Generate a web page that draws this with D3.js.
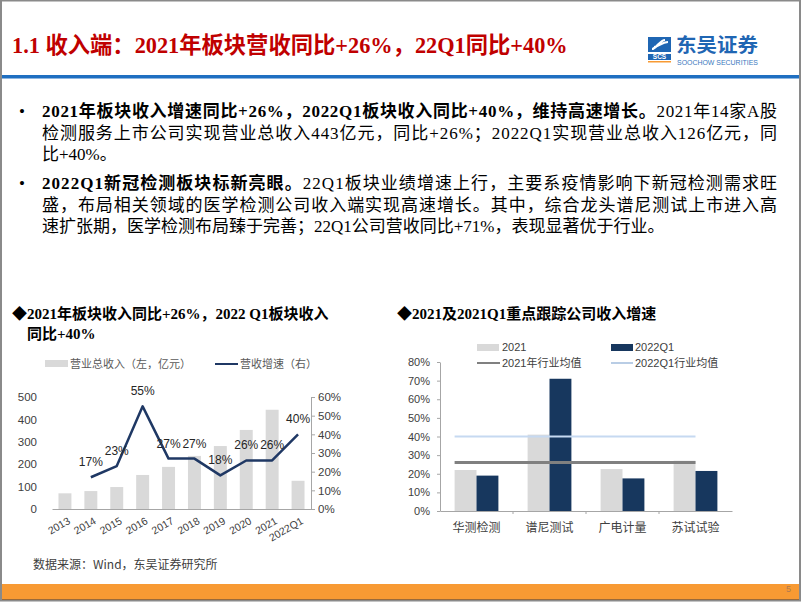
<!DOCTYPE html>
<html><head><meta charset="utf-8">
<script src="https://cdn.jsdelivr.net/npm/d3@7"></script>
<style>
html,body{margin:0;padding:0;background:#fff;}
svg{display:block;}
</style>
</head><body>
<svg id="c" width="802" height="602"></svg>
<script>
// ---------- data ----------
const years = ["2013","2014","2015","2016","2017","2018","2019","2020","2021","2022Q1"];
const revenue = [70, 80, 98, 152, 188, 237, 281, 353, 443, 126];
const growth = [null, 17, 23, 55, 27, 27, 18, 26, 26, 40];
const leftTicks = [0, 100, 200, 300, 400, 500];
const rightTicks = [0, 10, 20, 30, 40, 50, 60];

const companies = ["华测检测","谱尼测试","广电计量","苏试试验"];
const growth2021 = [22, 41, 22.5, 27];
const growth2022Q1 = [19, 71, 17.5, 21.5];
const avg2021 = 26;
const avg2022Q1 = 40;
const pctTicks = [0, 10, 20, 30, 40, 50, 60, 70, 80];

const serif = "'Liberation Serif','Times New Roman','Noto Sans CJK SC',serif";
const sans = "'Liberation Sans',Arial,'Noto Sans CJK SC',sans-serif";
const cjk = "'Noto Sans CJK SC',sans-serif";

const svg = d3.select("#c");

// ---------- slide frame ----------
svg.append("rect").attr("x",0).attr("y",0).attr("width",802).attr("height",602).attr("fill","#fff");
svg.append("rect").attr("x",1).attr("y",0.5).attr("width",799).attr("height",600).attr("fill","none").attr("stroke","#8a8a8a").attr("stroke-width",2);
svg.append("rect").attr("x",2).attr("y",584).attr("width",797).attr("height",15).attr("fill","#F89A33");
svg.append("line").attr("x1",2).attr("x2",799).attr("y1",599.5).attr("y2",599.5).attr("stroke","#9a6a3a").attr("stroke-width",1);
svg.append("text").attr("x",786).attr("y",592).attr("font-family",sans).attr("font-size",9).attr("fill","#b07a50").text("5");

// header
svg.append("text").attr("x",12).attr("y",53)
  .attr("font-family",serif).attr("font-weight","bold").attr("font-size",22.3).attr("fill","#C00000")
  .text("1.1 收入端：2021年板块营收同比+26%，22Q1同比+40%");
svg.append("rect").attr("x",2).attr("y",75).attr("width",797).attr("height",3.5).attr("fill","#1F6FC1");

// logo
const logo = svg.append("g");
logo.append("rect").attr("x",648).attr("y",37).attr("width",23).attr("height",15).attr("fill","#1F66B3");
logo.append("path").attr("d","M652,49 C656,49 660,40 665,40 M654,47 C658,47 662,42 668,42")
  .attr("stroke","#fff").attr("stroke-width",2.2).attr("fill","none");
logo.append("rect").attr("x",648).attr("y",54).attr("width",23).attr("height",6).attr("fill","#1F66B3");
logo.append("text").attr("x",659.5).attr("y",59.3).attr("text-anchor","middle").attr("font-family",sans)
  .attr("font-weight","bold").attr("font-size",6.5).attr("fill","#fff").text("SCS");
logo.append("rect").attr("x",648).attr("y",61).attr("width",23).attr("height",1.5).attr("fill","#F89A33");
logo.append("text").attr("x",676).attr("y",52).attr("font-family",cjk).attr("font-weight","bold")
  .attr("font-size",19).attr("fill","#1F66B3").attr("textLength",82).attr("lengthAdjust","spacingAndGlyphs").text("东吴证券");
logo.append("text").attr("x",677).attr("y",65).attr("font-family",sans)
  .attr("font-size",6.5).attr("fill","#3A78BE").attr("textLength",81).attr("lengthAdjust","spacingAndGlyphs").text("SOOCHOW SECURITIES");

// ---------- bullets ----------
const bulletLines = [
  {y:117, bullet:true, parts:[["b","2021年板块收入增速同比+26%，2022Q1板块收入同比+40%，维持高速增长。"],["n","2021年14家A股"]], full:true},
  {y:139, parts:[["n","检测服务上市公司实现营业总收入443亿元，同比+26%；2022Q1实现营业总收入126亿元，同"]], full:true},
  {y:160, parts:[["n","比+40%。"]]},
  {y:189, bullet:true, parts:[["b","2022Q1新冠检测板块标新亮眼。"],["n","22Q1板块业绩增速上行，主要系疫情影响下新冠检测需求旺"]], full:true},
  {y:211, parts:[["n","盛，布局相关领域的医学检测公司收入端实现高速增长。其中，综合龙头谱尼测试上市进入高"]], full:true},
  {y:232, parts:[["n","速扩张期，医学检测布局臻于完善；22Q1公司营收同比+71%，表现显著优于行业。"]]}
];
bulletLines.forEach(l => {
  if (l.bullet) svg.append("text").attr("x",19).attr("y",l.y).attr("font-family",serif).attr("font-size",17).attr("fill","#000").text("•");
  const t = svg.append("text").attr("x",42).attr("y",l.y).attr("font-family",serif).attr("font-size",17).attr("fill","#000");
  if (l.full) t.attr("textLength",735).attr("lengthAdjust","spacing");
  l.parts.forEach(p => t.append("tspan").attr("font-weight", p[0]==="b"?"bold":"normal").text(p[1]));
});

// ---------- left chart ----------
svg.append("text").attr("x",12).attr("y",319).attr("font-family",serif).attr("font-weight","bold").attr("font-size",15).attr("fill","#000")
  .text("◆2021年板块收入同比+26%，2022 Q1板块收入");
svg.append("text").attr("x",27).attr("y",339).attr("font-family",serif).attr("font-weight","bold").attr("font-size",15).attr("fill","#000")
  .text("同比+40%");

// legend
svg.append("rect").attr("x",45).attr("y",360).attr("width",23).attr("height",7).attr("fill","#D9D9D9");
svg.append("text").attr("x",70).attr("y",368).attr("font-family",cjk).attr("font-size",11).attr("fill","#595959").text("营业总收入（左，亿元）");
svg.append("line").attr("x1",215).attr("x2",238).attr("y1",364).attr("y2",364).attr("stroke","#1F3864").attr("stroke-width",2);
svg.append("text").attr("x",240).attr("y",368).attr("font-family",cjk).attr("font-size",11).attr("fill","#595959").text("营收增速（右）");

const xL = d3.scaleBand().domain(years).range([52, 311]).paddingInner(0.5).paddingOuter(0.25);
const yL = d3.scaleLinear().domain([0, 500]).range([509, 397]);
const yR = d3.scaleLinear().domain([0, 60]).range([509, 397]);

const gL = svg.append("g");
gL.selectAll("rect.bar").data(years).enter().append("rect")
  .attr("x", d => xL(d)).attr("width", xL.bandwidth())
  .attr("y", (d,i) => yL(revenue[i])).attr("height", (d,i) => yL(0) - yL(revenue[i]))
  .attr("fill", "#D9D9D9");

// axes
const axL = gL.append("g").attr("transform","translate(43,0)")
  .call(d3.axisLeft(yL).tickValues(leftTicks).tickSize(0).tickPadding(6));
axL.select(".domain").remove();
axL.selectAll("text").attr("font-family",sans).attr("font-size",11.5).attr("fill","#404040");

const axR = gL.append("g").attr("transform","translate(311,0)")
  .call(d3.axisRight(yR).tickValues(rightTicks).tickFormat(d => d + "%").tickSizeInner(4).tickSizeOuter(0).tickPadding(3));
axR.select(".domain").attr("stroke","#A6A6A6");
axR.selectAll("line").attr("stroke","#A6A6A6");
axR.selectAll("text").attr("font-family",sans).attr("font-size",11.5).attr("fill","#404040");

const axB = gL.append("g").attr("transform","translate(0,509)")
  .call(d3.axisBottom(xL).tickSize(0).tickPadding(0));
axB.select(".domain").attr("stroke","#A6A6A6");
axB.selectAll("text")
  .attr("font-family",sans).attr("font-size",10.5).attr("fill","#404040")
  .attr("text-anchor","end").attr("dy",0)
  .attr("transform", function(){ return "translate(6,14) rotate(-30)"; })
  .attr("y",0).attr("x",0);

// growth line
const lineData = years.map((d,i) => ({k:d, v:growth[i]})).filter(d => d.v !== null);
const cx = d => xL(d) + xL.bandwidth()/2;
gL.append("path").datum(lineData)
  .attr("d", d3.line().x(d => cx(d.k)).y(d => yR(d.v)))
  .attr("fill","none").attr("stroke","#1F3864").attr("stroke-width",2.5).attr("stroke-linejoin","round");
gL.selectAll("text.lbl").data(lineData).enter().append("text")
  .attr("x", d => cx(d.k)).attr("y", d => yR(d.v) - 11)
  .attr("text-anchor","middle").attr("font-family",sans).attr("font-size",12).attr("fill","#262626")
  .text(d => d.v + "%");

// ---------- right chart ----------
svg.append("text").attr("x",397).attr("y",319).attr("font-family",serif).attr("font-weight","bold").attr("font-size",15).attr("fill","#000")
  .text("◆2021及2021Q1重点跟踪公司收入增速");

// legend
svg.append("rect").attr("x",477).attr("y",344).attr("width",22).attr("height",7).attr("fill","#D9D9D9");
svg.append("text").attr("x",502).attr("y",351).attr("font-family",sans).attr("font-size",11).attr("fill","#404040").text("2021");
svg.append("rect").attr("x",611).attr("y",344).attr("width",22).attr("height",7).attr("fill","#17375E");
svg.append("text").attr("x",635).attr("y",351).attr("font-family",sans).attr("font-size",11).attr("fill","#404040").text("2022Q1");
svg.append("line").attr("x1",477).attr("x2",500).attr("y1",363).attr("y2",363).attr("stroke","#808080").attr("stroke-width",2);
svg.append("text").attr("x",502).attr("y",367).attr("font-family",sans).attr("font-size",11).attr("fill","#404040").text("2021年行业均值");
svg.append("line").attr("x1",611).attr("x2",633).attr("y1",363).attr("y2",363).attr("stroke","#B9CDE5").attr("stroke-width",2);
svg.append("text").attr("x",635).attr("y",367).attr("font-family",sans).attr("font-size",11).attr("fill","#404040").text("2022Q1行业均值");

const xC = d3.scaleBand().domain(companies).range([440, 732]).paddingInner(0.4).paddingOuter(0.2);
const xS = d3.scaleBand().domain(["2021","2022Q1"]).range([0, xC.bandwidth()]);
const yP = d3.scaleLinear().domain([0, 80]).range([511, 362]);

const gR = svg.append("g");
gR.selectAll("rect.a").data(companies).enter().append("rect")
  .attr("x", d => xC(d) + xS("2021")).attr("width", xS.bandwidth())
  .attr("y", (d,i) => yP(growth2021[i])).attr("height", (d,i) => yP(0) - yP(growth2021[i]))
  .attr("fill","#D9D9D9");
gR.selectAll("rect.b").data(companies).enter().append("rect")
  .attr("x", d => xC(d) + xS("2022Q1")).attr("width", xS.bandwidth())
  .attr("y", (d,i) => yP(growth2022Q1[i])).attr("height", (d,i) => yP(0) - yP(growth2022Q1[i]))
  .attr("fill","#17375E");

const ax1 = companies[0], axN = companies[companies.length-1];
gR.append("line").attr("x1", xC(ax1)).attr("x2", xC(axN) + xC.bandwidth()/2)
  .attr("y1", yP(avg2022Q1)).attr("y2", yP(avg2022Q1)).attr("stroke","#C6D9F1").attr("stroke-width",2);
gR.append("line").attr("x1", xC(ax1)).attr("x2", xC(axN) + xC.bandwidth()/2)
  .attr("y1", yP(avg2021)).attr("y2", yP(avg2021)).attr("stroke","#808080").attr("stroke-width",3);

const ayP = gR.append("g").attr("transform","translate(440,0)")
  .call(d3.axisLeft(yP).tickValues(pctTicks).tickFormat(d => d + "%").tickSizeInner(3).tickSizeOuter(0).tickPadding(7));
ayP.select(".domain").attr("stroke","#A6A6A6");
ayP.selectAll("line").attr("stroke","#A6A6A6");
ayP.selectAll("text").attr("font-family",sans).attr("font-size",11).attr("fill","#404040");

const axC = gR.append("g").attr("transform","translate(0,511)")
  .call(d3.axisBottom(xC).tickSize(0).tickPadding(12));
axC.select(".domain").attr("stroke","#A6A6A6");
axC.selectAll("text").attr("font-family",cjk).attr("font-size",12).attr("fill","#404040");
// category boundary ticks
const step = xC.step();
gR.selectAll("line.sep").data(companies.slice(1)).enter().append("line")
  .attr("x1", d => xC(d) - step*xC.paddingInner()/2).attr("x2", d => xC(d) - step*xC.paddingInner()/2)
  .attr("y1",511).attr("y2",514).attr("stroke","#A6A6A6");

// source
svg.append("text").attr("x",33).attr("y",569).attr("font-family",cjk).attr("font-size",12).attr("fill","#404040")
  .text("数据来源：Wind，东吴证券研究所");
</script>
</body></html>
